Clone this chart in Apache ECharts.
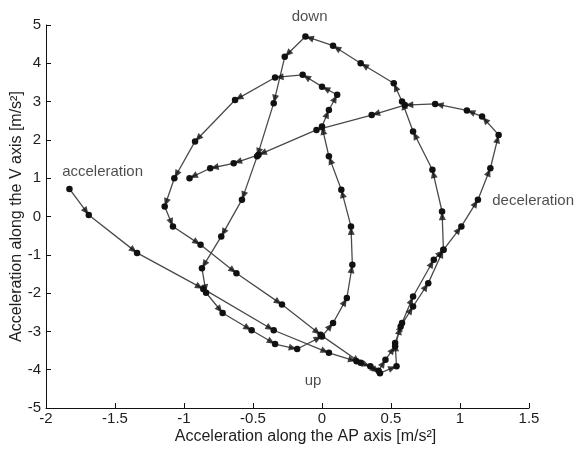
<!DOCTYPE html>
<html>
<head>
<meta charset="utf-8">
<script src="https://cdn.jsdelivr.net/npm/echarts@6/dist/echarts.min.js"></script>
<style>
html,body{margin:0;padding:0;background:#fff;}
#chart{width:587px;height:450px;}
</style>
</head>
<body>
<div id="chart"></div>
<script>
// Trajectory in time order (AP acceleration, V acceleration), m/s^2
const apAcc = [
  -1.83, -1.69, -1.34, -0.86, -0.35, 0.05, 0.25, 0.35, 0.42, 0.54,
   0.53,  0.58,  0.66,  0.81,  0.88, 0.87, 0.80, 0.66, 0.58, 0.52,
   0.28,  0.08, -0.12, -0.27, -0.35, -0.47, -0.58, -0.73, -0.87, -0.84,
  -0.72, -0.51, -0.34, -0.18,  0.00,  0.08,  0.18,  0.22,  0.21,  0.14,
   0.05,  0.00,  0.05,  0.11,  0.00, -0.14, -0.34, -0.63, -0.92, -1.07,
  -1.14, -1.08, -0.88, -0.62, -0.29, -0.01,  0.28,  0.41,  0.46,  0.53,
   0.57,  0.66,  0.77,  0.88,  1.01,  1.13,  1.22,  1.28,  1.16,  1.05,
   0.82,  0.60,  0.36, -0.04, -0.46, -0.64, -0.81, -0.96
];
const vAcc = [
   0.72,  0.04, -0.95, -1.89, -2.97, -3.56, -3.78, -3.91, -4.09, -3.91,
  -3.30, -2.78, -2.09, -1.13, -0.87,  0.13,  1.22,  2.22,  3.00,  3.48,
   4.00,  4.46,  4.70,  4.17,  2.96,  1.57,  0.44, -0.52, -1.35, -1.99,
  -2.52, -2.97, -3.33, -3.46, -3.13, -2.78, -2.13, -1.26, -0.26,  0.70,
   1.57,  2.35,  2.78,  3.18,  3.39,  3.70,  3.63,  3.04,  1.96,  1.00,
   0.26, -0.26, -0.74, -1.48, -2.30, -3.09, -3.82, -4.03, -3.74, -3.39,
  -2.87, -2.35, -1.74, -0.87, -0.26,  0.44,  1.26,  2.13,  2.61,  2.77,
   2.94,  2.91,  2.65,  2.26,  1.61,  1.39,  1.26,  1.00
];
const noteTexts = ['acceleration', 'down', 'deceleration', 'up'];
const noteX = [-1.59, -0.09, 1.53, -0.065];
const noteY = [1.17, 5.21, 0.41, -4.29];

const xTicks = {min: -2, max: 1.5, step: 0.5};
const yTicks = {min: -5, max: 5, step: 1};
const xName = 'Acceleration along the AP axis [m/s\u00B2]';
const yName = 'Acceleration along the V axis [m/s\u00B2]';

const pts = apAcc.map((x, i) => [x, vAcc[i]]);
const notes = noteTexts.map((t, i) => ({value: [noteX[i], noteY[i]], name: t}));

const FONT = 'Liberation Sans, Arial, sans-serif';
const TXT = '#1e1e1e';
const chart = echarts.init(document.getElementById('chart'), null, {renderer: 'canvas'});

function axisCommon() {
  return {
    type: 'value',
    axisLine: {show: true, onZero: false, lineStyle: {color: '#111', width: 1}},
    axisTick: {show: true, inside: true, length: 5, lineStyle: {color: '#111'}},
    splitLine: {show: false},
    nameLocation: 'middle',
    nameMoveOverlap: false
  };
}

const base = {
  animation: false,
  backgroundColor: '#fff',
  grid: {left: 46, right: 58, top: 25, bottom: 42, containLabel: false, outerBoundsMode: 'none'},
  xAxis: Object.assign(axisCommon(), {
    min: xTicks.min, max: xTicks.max, interval: xTicks.step,
    name: xName, nameGap: 21,
    nameTextStyle: {color: TXT, fontFamily: FONT, fontSize: 16, padding: [0, 0, 0, 36]},
    axisLabel: {color: TXT, fontFamily: FONT, fontSize: 15, margin: 3,
      formatter: v => String(v)}
  }),
  yAxis: Object.assign(axisCommon(), {
    min: yTicks.min, max: yTicks.max, interval: yTicks.step,
    name: yName, nameGap: 21,
    nameTextStyle: {color: TXT, fontFamily: FONT, fontSize: 16},
    axisLabel: {color: TXT, fontFamily: FONT, fontSize: 15, margin: 5}
  }),
  series: [
    {
      type: 'line', data: pts, symbol: 'circle', symbolSize: 6.5, showAllSymbol: true,
      lineStyle: {color: '#4a4a4a', width: 1.3},
      itemStyle: {color: '#111', borderWidth: 0},
      z: 3
    },
    {
      type: 'scatter', data: [], symbol: 'triangle', symbolSize: [7, 8],
      itemStyle: {color: '#111'}, z: 4
    },
    {
      type: 'scatter', data: notes, symbolSize: 0, clip: false, silent: true,
      label: {show: true, position: 'inside', formatter: p => p.name,
        color: TXT, fontFamily: FONT, fontSize: 15}
    }
  ]
};
chart.setOption(base);

// arrows pointing in travel direction, placed just before each dot
const arrows = [];
for (let i = 1; i < pts.length; i++) {
  const a = chart.convertToPixel({gridIndex: 0}, pts[i - 1]);
  const b = chart.convertToPixel({gridIndex: 0}, pts[i]);
  const dx = b[0] - a[0], dy = b[1] - a[1];
  const len = Math.hypot(dx, dy) || 1;
  const ang = Math.atan2(-dy, dx) * 180 / Math.PI;
  arrows.push({
    value: pts[i],
    symbolRotate: ang - 90,
    symbolOffset: [-dx / len * 4.5, -dy / len * 4.5]
  });
}
chart.setOption({series: [{}, {data: arrows}, {}]});
</script>
</body>
</html>
